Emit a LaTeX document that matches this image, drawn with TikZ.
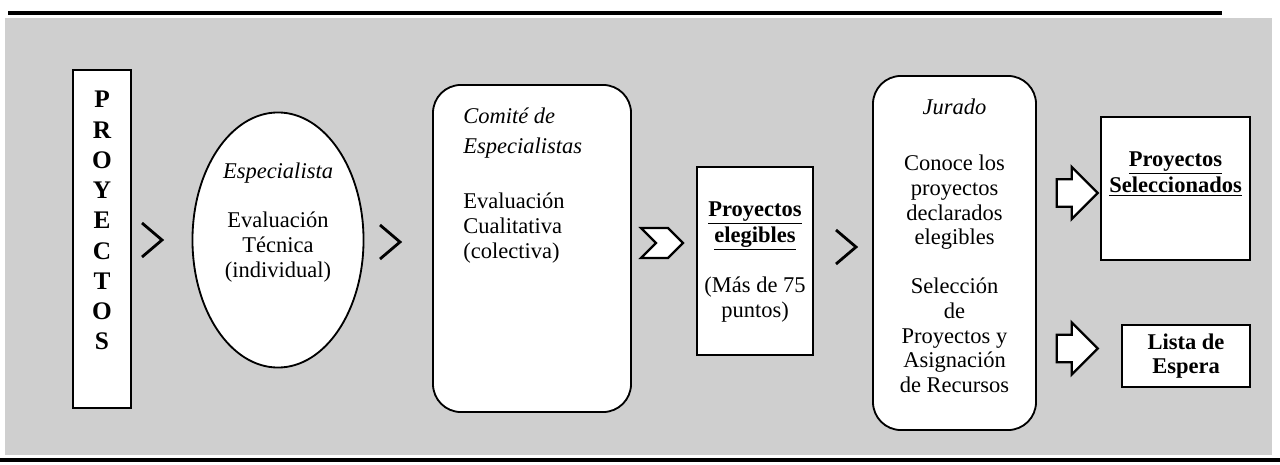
\documentclass[tikz,border=0pt]{standalone}
\usepackage{fontspec}
\setmainfont{Liberation Serif}
\usetikzlibrary{shapes.geometric,shapes.symbols,shapes.arrows}
\tikzstyle{box edge} = [draw,line width=1.3pt,fill=white]
\tikzstyle{body text} = [inner sep=0pt,align=center,font=\fontsize{16}{17.5}\selectfont]

\begin{document}
\begin{tikzpicture}
[x=0.025cm,y=-0.025cm,%
panel/.style={fill={rgb,255:red,207;green,207;blue,207}},%
rule/.style={line width=2.2pt},%
chevron/.style={line width=2pt,line join=miter},%
stage/.style={box edge,rectangle,inner sep=0pt},%
round stage/.style={box edge,rounded corners=0.7cm,inner sep=0pt},%
fat arrow/.style={box edge,single arrow,line width=1.6pt,inner xsep=0pt,inner ysep=0.3125cm,single arrow head extend=0.3125cm,minimum height=1.025cm}]

\useasboundingbox (0,0) rectangle (1280,465);

%% background panel and rules
\fill[panel] (5,18) rectangle (1272,455);
\draw[rule] (8,13) -- (1222,13);
\draw[rule] (0,460) -- (1280,460);

%% stages
\node (proy) at (102,239) [stage,minimum width=1.45cm,minimum height=8.45cm] {};
\node (proytext) at (102,91) [anchor=north,inner sep=0pt,align=center,font=\fontsize{18}{21.5}\selectfont\bfseries] {P\\R\\O\\Y\\E\\C\\T\\O\\S};

\node (esp) at (278,240) [box edge,ellipse,inner sep=0pt,minimum width=4.275cm,minimum height=6.375cm] {};
\node (esptitle) at (278,163) [body text,anchor=north,font=\fontsize{16}{17.5}\selectfont\itshape] {Especialista};
\node (esptext) at (278,212) [body text,anchor=north] {Evaluación\\Técnica\\(individual)};

\node (comite) at (532,248.5) [round stage,minimum width=4.95cm,minimum height=8.175cm] {};
\node (comtitle) at (463,108) [body text,anchor=north west,align=left,font=\fontsize{16}{21}\selectfont\itshape] {Comité de\\Especialistas};
\node (comtext) at (463,193) [body text,anchor=north west,align=left] {Evaluación\\Cualitativa\\(colectiva)};

\node (eleg) at (755,261) [stage,minimum width=2.9cm,minimum height=4.7cm] {};
\node (elegtitle) at (755,201) [body text,anchor=north,font=\fontsize{16}{19}\selectfont\bfseries] {\underline{Proyectos}\\\underline{elegibles}};
\node (elegtext) at (755,277) [body text,anchor=north] {(Más de 75\\puntos)};

\node (jurado) at (954.5,253) [round stage,minimum width=4.075cm,minimum height=8.85cm] {};
\node (jurtitle) at (954.5,99) [body text,anchor=north,font=\fontsize{16}{17.5}\selectfont\itshape] {Jurado};
\node (jurtextA) at (954.5,155) [body text,anchor=north] {Conoce los\\proyectos\\declarados\\elegibles};
\node (jurtextB) at (954.5,278) [body text,anchor=north] {Selección\\de\\Proyectos y\\Asignación\\de Recursos};

\node (selec) at (1175.5,188.5) [stage,minimum width=3.725cm,minimum height=3.575cm] {};
\node (selectext) at (1175.5,151) [body text,anchor=north,font=\fontsize{16}{19}\selectfont\bfseries] {\underline{Proyectos}\\\underline{Seleccionados}};

\node (lista) at (1186,356) [stage,minimum width=3.2cm,minimum height=1.55cm,body text,font=\fontsize{16}{17.5}\selectfont\bfseries] {Lista de\\Espera};

%% arrows between stages
\foreach \cname/\x/\y in {chevA/152/240, chevB/390/242, chevC/846/247}
{
\coordinate (\cname) at (\x,\y);
\draw[chevron] (\cname) ++(-10,-17) -- ++(20,17) -- ++(-20,17);
}
\node (notch) at (662,243) [box edge,signal,signal to=east,signal from=west,line width=1.6pt,inner sep=0pt,minimum width=1.05cm,minimum height=0.75cm] {};

\node (toselec) at (1070.5,193) [fat arrow] {};
\node (tolista) at (1070.5,348.5) [fat arrow] {};

\end{tikzpicture}
\end{document}
